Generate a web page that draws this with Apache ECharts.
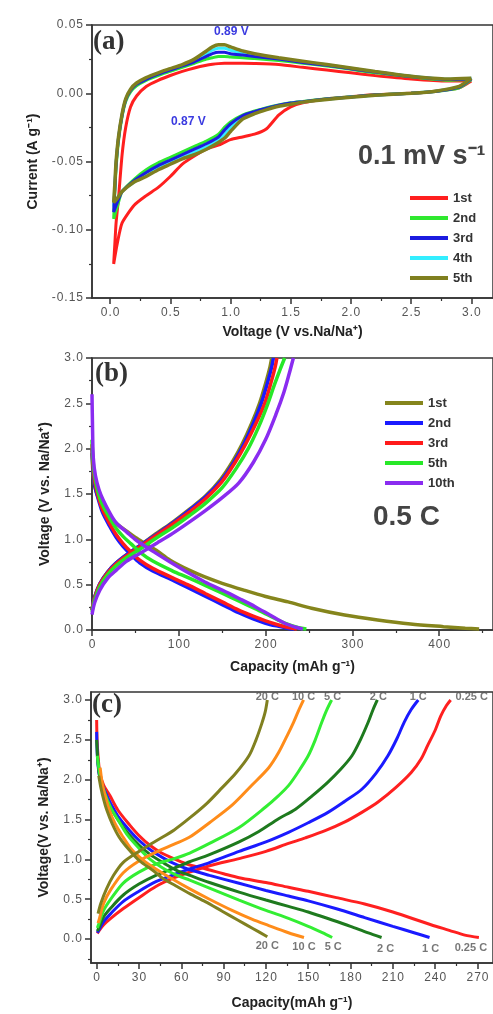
<!DOCTYPE html>
<html>
<head>
<meta charset="utf-8">
<script src="https://cdn.jsdelivr.net/npm/echarts@6/dist/echarts.min.js"></script>
<style>
  html, body { margin: 0; padding: 0; background: #fff; }
  #chart { width: 493px; height: 1014px; }
</style>
</head>
<body>
<div id="chart"></div>
<script>
// ---------- (a) cyclic voltammetry, 0.1 mV/s ----------
var cvCycles = ['1st', '2nd', '3rd', '4th', '5th'];
// cathodic scan 3.0 -> 0.03 V, anodic scan 0.03 -> 3.0 V
var cvVoltDown = [3.0, 2.9, 2.7, 2.5, 2.2, 2.0, 1.8, 1.6, 1.5, 1.4, 1.3, 1.2, 1.1, 1.0, 0.95, 0.9, 0.8, 0.7, 0.6, 0.5, 0.4, 0.3, 0.2, 0.1, 0.06, 0.03];
var cvVoltUp = [0.03, 0.04, 0.05, 0.07, 0.1, 0.13, 0.17, 0.22, 0.3, 0.4, 0.5, 0.6, 0.7, 0.8, 0.85, 0.9, 0.95, 1.0, 1.1, 1.2, 1.4, 1.6, 1.8, 2.0, 2.2, 2.5, 2.8, 3.0];

var cv1stDown = [0.009, 0.004, 0.0015, 0.0, -0.001, -0.0025, -0.004, -0.007, -0.010, -0.016, -0.026, -0.030, -0.032, -0.034, -0.036, -0.038, -0.041, -0.046, -0.052, -0.061, -0.069, -0.075, -0.082, -0.095, -0.110, -0.125];
var cv1stUp = [-0.125, -0.110, -0.095, -0.077, -0.045, -0.025, -0.010, -0.002, 0.005, 0.0095, 0.013, 0.016, 0.0185, 0.0205, 0.0212, 0.0217, 0.022, 0.022, 0.022, 0.0218, 0.021, 0.019, 0.017, 0.015, 0.013, 0.0105, 0.009, 0.009];
var cv2ndDown = [0.010, 0.004, 0.0012, 0.0, -0.0012, -0.0025, -0.004, -0.006, -0.007, -0.0085, -0.0105, -0.013, -0.016, -0.021, -0.025, -0.030, -0.035, -0.039, -0.043, -0.047, -0.051, -0.056, -0.063, -0.072, -0.083, -0.092];
var cv2ndUp = [-0.092, -0.072, -0.055, -0.035, -0.017, -0.006, 0.001, 0.0055, 0.0095, 0.013, 0.016, 0.019, 0.022, 0.025, 0.026, 0.027, 0.027, 0.0265, 0.026, 0.0255, 0.024, 0.022, 0.020, 0.0175, 0.015, 0.012, 0.0095, 0.010];
var cv3rdDown = [0.0105, 0.0045, 0.0013, 0.0, -0.0013, -0.0027, -0.0042, -0.0062, -0.0072, -0.0088, -0.011, -0.0135, -0.0165, -0.0225, -0.027, -0.032, -0.037, -0.041, -0.045, -0.049, -0.053, -0.058, -0.064, -0.072, -0.080, -0.087];
var cv3rdUp = [-0.087, -0.069, -0.052, -0.033, -0.016, -0.005, 0.002, 0.0065, 0.0102, 0.014, 0.017, 0.020, 0.023, 0.027, 0.029, 0.030, 0.030, 0.029, 0.028, 0.027, 0.025, 0.0225, 0.0205, 0.018, 0.0155, 0.0122, 0.010, 0.0105];
var cv4thDown = [0.011, 0.0048, 0.0014, 0.0, -0.0014, -0.0028, -0.0044, -0.0064, -0.0075, -0.009, -0.0115, -0.014, -0.0175, -0.025, -0.030, -0.034, -0.039, -0.043, -0.047, -0.0505, -0.0545, -0.0595, -0.065, -0.072, -0.078, -0.083];
var cv4thUp = [-0.083, -0.067, -0.051, -0.0325, -0.0155, -0.0045, 0.0025, 0.007, 0.011, 0.0145, 0.0175, 0.0205, 0.024, 0.029, 0.0315, 0.033, 0.033, 0.0315, 0.0295, 0.028, 0.0255, 0.023, 0.0208, 0.0183, 0.0158, 0.0124, 0.0102, 0.011];
var cv5thDown = [0.011, 0.005, 0.0015, 0.0, -0.0015, -0.003, -0.0045, -0.0065, -0.008, -0.0095, -0.012, -0.015, -0.019, -0.028, -0.033, -0.036, -0.041, -0.045, -0.048, -0.052, -0.056, -0.061, -0.065, -0.072, -0.077, -0.080];
var cv5thUp = [-0.080, -0.066, -0.050, -0.032, -0.015, -0.004, 0.003, 0.0075, 0.0115, 0.015, 0.018, 0.021, 0.025, 0.031, 0.034, 0.0355, 0.0355, 0.034, 0.031, 0.029, 0.026, 0.0235, 0.021, 0.0185, 0.016, 0.0125, 0.0105, 0.011];

var aVoltTicks = [0, 0.5, 1.0, 1.5, 2.0, 2.5, 3.0];
var aCurrentTicks = [-0.15, -0.10, -0.05, 0.00, 0.05];

// ---------- (b) charge/discharge at 0.5 C, [capacity, voltage] ----------
var gcdCycles = ['1st', '2nd', '3rd', '5th', '10th'];
var gcd1stDis = [[0, 1.95], [1, 1.75], [2.5, 1.62], [5, 1.52], [10, 1.4], [20, 1.26], [30, 1.16], [40, 1.09], [50, 1.02], [60, 0.96], [74, 0.88], [90, 0.77], [112, 0.66], [130, 0.585], [150, 0.515], [175, 0.44], [200, 0.37], [226, 0.31], [253, 0.24], [291, 0.165], [329, 0.11], [367, 0.066], [405, 0.037], [430, 0.02], [446, 0.01]];
var gcd1stChg = [[0, 0.22], [3, 0.36], [9, 0.51], [18, 0.64], [28, 0.74], [40, 0.83], [55, 0.93], [75, 1.07], [93, 1.19], [112, 1.33], [131, 1.48], [148, 1.66], [162, 1.86], [173, 2.05], [184, 2.28], [193, 2.5], [200, 2.72], [205, 2.9], [207, 3.0]];
var gcd2ndDis = [[0, 2.0], [1, 1.8], [3, 1.6], [7, 1.45], [12, 1.3], [20, 1.15], [28, 1.02], [36, 0.92], [45, 0.83], [55, 0.74], [70, 0.65], [93, 0.55], [110, 0.47], [131, 0.37], [150, 0.28], [169, 0.19], [185, 0.125], [200, 0.075], [215, 0.04], [225, 0.02], [233, 0.01]];
var gcd2ndChg = [[0, 0.22], [3, 0.36], [9, 0.51], [18, 0.64], [28, 0.74], [40, 0.83], [55, 0.93], [75, 1.06], [93, 1.18], [112, 1.32], [131, 1.47], [149, 1.65], [164, 1.86], [175, 2.05], [186, 2.28], [195, 2.5], [202, 2.72], [207, 2.9], [209, 3.0]];
var gcd3rdDis = [[0, 2.05], [1, 1.85], [3, 1.65], [7, 1.48], [12, 1.33], [20, 1.18], [28, 1.05], [36, 0.95], [45, 0.86], [55, 0.77], [70, 0.68], [93, 0.575], [110, 0.5], [131, 0.4], [150, 0.31], [169, 0.22], [185, 0.155], [200, 0.1], [215, 0.055], [228, 0.025], [236, 0.01]];
var gcd3rdChg = [[0, 0.22], [3, 0.35], [9, 0.5], [18, 0.63], [28, 0.73], [40, 0.82], [55, 0.92], [75, 1.05], [93, 1.17], [112, 1.3], [131, 1.45], [150, 1.64], [165, 1.85], [177, 2.05], [189, 2.28], [199, 2.5], [206, 2.72], [211, 2.9], [213, 3.0]];
var gcd5thDis = [[0, 2.1], [1, 1.9], [3, 1.7], [7, 1.52], [12, 1.38], [20, 1.24], [28, 1.12], [36, 1.03], [45, 0.95], [55, 0.86], [70, 0.76], [93, 0.65], [110, 0.58], [131, 0.49], [150, 0.405], [169, 0.32], [188, 0.235], [205, 0.155], [222, 0.075], [238, 0.025], [247, 0.01]];
var gcd5thChg = [[0, 0.2], [3, 0.33], [9, 0.48], [18, 0.61], [28, 0.71], [40, 0.8], [55, 0.89], [75, 1.02], [93, 1.13], [112, 1.26], [131, 1.4], [150, 1.57], [166, 1.78], [180, 2.0], [192, 2.24], [202, 2.48], [210, 2.7], [217, 2.88], [222, 3.0]];
var gcd10thDis = [[0, 2.6], [0.5, 2.3], [1.5, 1.9], [4, 1.7], [8, 1.55], [13, 1.43], [20, 1.3], [28, 1.18], [40, 1.08], [51, 0.99], [74, 0.845], [90, 0.75], [112, 0.625], [130, 0.53], [150, 0.44], [170, 0.345], [188, 0.257], [205, 0.165], [222, 0.074], [235, 0.03], [243, 0.01]];
var gcd10thChg = [[0, 0.17], [3, 0.3], [9, 0.44], [18, 0.57], [28, 0.66], [40, 0.76], [55, 0.845], [75, 0.96], [93, 1.066], [112, 1.19], [131, 1.32], [150, 1.46], [169, 1.62], [186, 1.85], [200, 2.1], [212, 2.38], [221, 2.62], [227, 2.82], [232, 3.0]];

var bCapTicks = [0, 100, 200, 300, 400];
var bVoltTicks = [0, 0.5, 1.0, 1.5, 2.0, 2.5, 3.0];

// ---------- (c) rate performance, [capacity, voltage] ----------
var rateNames = ['0.25 C', '1 C', '2 C', '5 C', '10 C', '20 C'];
var rate025Dis = [[0, 2.75], [0.3, 2.5], [1, 2.3], [2.3, 2.08], [5, 1.93], [9.4, 1.8], [15, 1.62], [23.5, 1.43], [30, 1.3], [37.5, 1.18], [46, 1.08], [56, 1.0], [66, 0.93], [77.5, 0.88], [90, 0.82], [101, 0.77], [120, 0.71], [136, 0.65], [150, 0.6], [170, 0.52], [190, 0.44], [210, 0.34], [237, 0.18], [250, 0.11], [261, 0.05], [271, 0.02]];
var rate025Chg = [[0.5, 0.07], [1.5, 0.1], [5, 0.18], [10, 0.26], [18.7, 0.38], [30, 0.52], [42, 0.66], [55, 0.77], [66, 0.84], [80, 0.92], [101, 1.01], [120, 1.1], [136, 1.2], [148, 1.27], [162, 1.36], [176, 1.47], [188, 1.59], [199.5, 1.72], [212, 1.9], [223, 2.09], [230, 2.26], [234.7, 2.43], [240, 2.62], [244, 2.8], [248, 2.93], [251, 3.0]];
var rate1Dis = [[0, 2.6], [0.5, 2.3], [1.5, 2.1], [3, 1.98], [6, 1.85], [10, 1.7], [16, 1.52], [23, 1.37], [30, 1.24], [38, 1.12], [48, 1.01], [57, 0.93], [66, 0.87], [80, 0.8], [101, 0.7], [120, 0.61], [136, 0.54], [150, 0.48], [170, 0.38], [190, 0.27], [210, 0.16], [225, 0.08], [236, 0.02]];
var rate1Chg = [[0.5, 0.08], [1.5, 0.11], [5, 0.22], [10, 0.32], [18.7, 0.47], [30, 0.6], [42, 0.72], [55, 0.81], [66, 0.88], [80, 0.96], [101, 1.1], [120, 1.22], [136, 1.34], [150, 1.46], [164, 1.59], [176, 1.73], [188, 1.88], [198, 2.08], [206.5, 2.3], [213, 2.52], [218, 2.72], [223, 2.88], [228, 3.0]];
var rate2Dis = [[0, 2.5], [1, 2.2], [2.5, 2.0], [5, 1.85], [9, 1.68], [15, 1.5], [22, 1.33], [30, 1.18], [38, 1.06], [48, 0.95], [57, 0.86], [66, 0.8], [80, 0.71], [101, 0.59], [120, 0.49], [136, 0.41], [150, 0.34], [167, 0.24], [180, 0.16], [192, 0.08], [202, 0.02]];
var rate2Chg = [[0.5, 0.1], [1.5, 0.14], [5, 0.28], [10, 0.39], [18.7, 0.55], [30, 0.69], [42, 0.8], [55, 0.89], [66, 0.97], [80, 1.06], [101, 1.22], [115, 1.35], [129, 1.51], [141, 1.63], [153, 1.8], [164, 1.97], [173, 2.13], [181, 2.3], [187, 2.5], [192.5, 2.72], [196, 2.88], [199, 3.0]];
var rate5Dis = [[0.5, 2.3], [1.5, 2.15], [3, 2.0], [6, 1.82], [10, 1.65], [16, 1.47], [22, 1.3], [30, 1.14], [38, 1.0], [48, 0.88], [57, 0.8], [66, 0.74], [80, 0.64], [101, 0.49], [120, 0.36], [136, 0.26], [150, 0.16], [160, 0.08], [167, 0.02]];
var rate5Chg = [[0.5, 0.14], [1.5, 0.19], [5, 0.36], [10, 0.5], [18.7, 0.7], [30, 0.84], [42, 0.94], [55, 1.01], [66, 1.08], [80, 1.2], [101, 1.4], [120, 1.66], [129, 1.8], [136, 1.925], [143, 2.1], [150, 2.3], [155, 2.5], [159.6, 2.72], [163, 2.87], [166.6, 3.0]];
var rate10Dis = [[2.5, 2.15], [4, 1.95], [6, 1.8], [9, 1.62], [13, 1.45], [18, 1.3], [25, 1.12], [33, 0.99], [42, 0.88], [54, 0.75], [66, 0.63], [80, 0.5], [96, 0.36], [110, 0.25], [122, 0.17], [136, 0.08], [147, 0.02]];
var rate10Chg = [[1, 0.2], [2, 0.26], [5, 0.45], [10, 0.62], [18.7, 0.83], [30, 0.98], [42, 1.09], [55, 1.19], [66, 1.28], [80, 1.46], [96, 1.68], [110, 1.93], [122, 2.15], [129, 2.34], [135, 2.55], [139.6, 2.72], [143, 2.86], [146.7, 3.0]];
var rate20Dis = [[1.5, 2.05], [3, 1.9], [5, 1.75], [7, 1.63], [11, 1.45], [16, 1.28], [23, 1.12], [30.5, 0.98], [40, 0.86], [47, 0.76], [56, 0.67], [66, 0.57], [77, 0.47], [89, 0.35], [100, 0.24], [111, 0.13], [121, 0.03]];
var rate20Chg = [[1, 0.32], [3, 0.45], [7, 0.63], [12, 0.8], [18.7, 0.96], [30, 1.1], [42, 1.23], [55, 1.37], [66, 1.52], [78, 1.7], [89, 1.9], [98.6, 2.08], [108, 2.3], [113, 2.5], [117, 2.7], [119.5, 2.85], [121, 3.0]];

var cCapTicks = [0, 30, 60, 90, 120, 150, 180, 210, 240, 270];
var cVoltTicks = [0, 0.5, 1.0, 1.5, 2.0, 2.5, 3.0];

// ---------- helpers ----------
var chart = echarts.init(document.getElementById('chart'));
var FONT = 'Liberation Sans, Arial, sans-serif';

function zip(xs, ys) {
  return xs.map(function (x, i) { return [x, ys[i]]; });
}
function midpoints(ticks, lo, hi) {
  var out = [];
  for (var i = 0; i < ticks.length - 1; i++) out.push((ticks[i] + ticks[i + 1]) / 2);
  var step = ticks[1] - ticks[0];
  if (ticks[0] - step / 2 >= lo) out.unshift(ticks[0] - step / 2);
  if (ticks[ticks.length - 1] + step / 2 <= hi) out.push(ticks[ticks.length - 1] + step / 2);
  return out;
}
function spaced(s) { return s.split('').join('\u200A'); }

// major axis (line, ticks, labels, name) + overlaid minor-tick axis
function axisPair(grid, pos, min, max, ticks, fmt, name, gap) {
  var major = {
    type: 'value', gridIndex: grid, position: pos, min: min, max: max,
    axisLine: { show: true, onZero: false, lineStyle: { color: '#333', width: 1.5 } },
    axisTick: { show: true, customValues: ticks, length: 6, lineStyle: { color: '#333', width: 1.5 } },
    axisLabel: { customValues: ticks, formatter: function (v) { return spaced(fmt(v)); },
      color: '#555', fontSize: 12, fontFamily: FONT, margin: 9 },
    splitLine: { show: false },
    name: name, nameLocation: 'middle', nameGap: gap,
    nameTextStyle: { color: '#222', fontSize: 14, fontWeight: 'bold', fontFamily: FONT }
  };
  var minor = {
    type: 'value', gridIndex: grid, position: pos, offset: 0, min: min, max: max,
    axisLine: { show: false, onZero: false },
    axisTick: { show: true, customValues: midpoints(ticks, min, max), length: 3, lineStyle: { color: '#333', width: 1.2 } },
    axisLabel: { show: false },
    splitLine: { show: false }
  };
  return [major, minor];
}

var f1 = function (v) { return v.toFixed(1); };
var f2 = function (v) { return v.toFixed(2); };
var f0 = function (v) { return String(Math.round(v)); };

var xAxes = [].concat(
  axisPair(0, 'bottom', -0.15, 3.18, aVoltTicks, f1, 'Voltage (V vs.Na/Na\u207A)', 27),
  axisPair(1, 'bottom', 0, 462, bCapTicks, f0, 'Capacity (mAh g\u207B\u00B9)', 30),
  axisPair(2, 'bottom', -4, 281, cCapTicks, f0, 'Capacity(mAh g\u207B\u00B9)', 33)
);
var yAxes = [].concat(
  axisPair(0, 'left', -0.15, 0.05, aCurrentTicks, f2, 'Current (A g\u207B\u00B9)', 52),
  axisPair(1, 'left', 0, 3.0, bVoltTicks, f1, 'Voltage (V vs. Na/Na\u207A)', 40),
  axisPair(2, 'left', -0.3, 3.1, cVoltTicks, f1, 'Voltage(V vs. Na/Na\u207A)', 40)
);

// ---------- series ----------
var series = [];
var cvColors = { '1st': '#ff1f1f', '2nd': '#2fe82f', '3rd': '#1c1ce0', '4th': '#33eeff', '5th': '#7f7f1f' };
var cvData = {
  '1st': [cv1stDown, cv1stUp], '2nd': [cv2ndDown, cv2ndUp], '3rd': [cv3rdDown, cv3rdUp],
  '4th': [cv4thDown, cv4thUp], '5th': [cv5thDown, cv5thUp]
};
['1st', '2nd', '4th', '3rd', '5th'].forEach(function (c) {
  series.push({
    name: 'a ' + c, type: 'line', xAxisIndex: 0, yAxisIndex: 0,
    showSymbol: false, smooth: 0.2, color: cvColors[c],
    lineStyle: { width: c === '5th' ? 3.5 : 3, color: cvColors[c] },
    data: zip(cvVoltDown, cvData[c][0]).concat(zip(cvVoltUp, cvData[c][1]))
  });
});

var gcdColors = { '1st': '#85851c', '2nd': '#1a1aff', '3rd': '#ff1a1a', '5th': '#27e827', '10th': '#8a2cf0' };
var gcdData = {
  '1st': [gcd1stDis, gcd1stChg], '2nd': [gcd2ndDis, gcd2ndChg], '3rd': [gcd3rdDis, gcd3rdChg],
  '5th': [gcd5thDis, gcd5thChg], '10th': [gcd10thDis, gcd10thChg]
};
gcdCycles.forEach(function (c) {
  gcdData[c].forEach(function (curve, k) {
    series.push({
      name: 'b ' + c, type: 'line', xAxisIndex: 2, yAxisIndex: 2,
      showSymbol: false, smooth: 0.3, color: gcdColors[c],
      lineStyle: { width: 3.5, color: gcdColors[c] },
      data: curve
    });
  });
});

var rateColors = { '0.25 C': '#ff2020', '1 C': '#1a1aff', '2 C': '#1e7a1e', '5 C': '#33ee33', '10 C': '#ff8c1a', '20 C': '#808020' };
var rateData = {
  '0.25 C': [rate025Dis, rate025Chg], '1 C': [rate1Dis, rate1Chg], '2 C': [rate2Dis, rate2Chg],
  '5 C': [rate5Dis, rate5Chg], '10 C': [rate10Dis, rate10Chg], '20 C': [rate20Dis, rate20Chg]
};
// label nudges (pixels) for the end-of-curve captions
var topNudge = { '0.25 C': [21, -3], '1 C': [0, -3], '2 C': [1, -3], '5 C': [1, -3], '10 C': [0, -3], '20 C': [0, -3] };
var botNudge = { '0.25 C': [-8, 10], '1 C': [1, 11], '2 C': [4, 11], '5 C': [1, 9], '10 C': [0, 9], '20 C': [0, 9] };
rateNames.forEach(function (r) {
  rateData[r].forEach(function (curve) {
    series.push({
      name: 'c ' + r, type: 'line', xAxisIndex: 4, yAxisIndex: 4,
      showSymbol: false, smooth: 0.3, color: rateColors[r],
      lineStyle: { width: 3, color: rateColors[r] },
      data: curve
    });
  });
});
// captions at curve ends
var capLabel = { color: '#555', fontSize: 11, fontWeight: 'bold', fontFamily: FONT };
series.push({
  type: 'scatter', xAxisIndex: 4, yAxisIndex: 4, symbolSize: 0, silent: true,
  data: rateNames.map(function (r) {
    var chg = rateData[r][1], dis = rateData[r][0];
    return [
      { value: chg[chg.length - 1], label: Object.assign({ show: true, position: 'inside', formatter: r, offset: topNudge[r] }, capLabel) },
      { value: dis[dis.length - 1], label: Object.assign({ show: true, position: 'inside', formatter: r, offset: botNudge[r] }, capLabel) }
    ];
  }).reduce(function (a, b) { return a.concat(b); }, [])
});

var legendText = { color: '#333', fontSize: 13, fontWeight: 'bold', fontFamily: FONT, lineHeight: 14 };
var stripTag = function (n) { return n.slice(2); };

chart.setOption({
  animation: false,
  backgroundColor: '#fff',
  grid: [
    { left: 92, right: -3, top: 25, height: 273, show: true, borderColor: '#333', borderWidth: 1.5, backgroundColor: 'transparent' },
    { left: 92, right: -3, top: 358, height: 272, show: true, borderColor: '#333', borderWidth: 1.5, backgroundColor: 'transparent' },
    { left: 91, right: -3, top: 692, height: 271, show: true, borderColor: '#333', borderWidth: 1.5, backgroundColor: 'transparent' }
  ],
  xAxis: xAxes,
  yAxis: yAxes,
  legend: [
    { orient: 'vertical', left: 405, top: 186, itemWidth: 38, itemHeight: 4, itemGap: 6, icon: 'rect',
      data: cvCycles.map(function (c) { return 'a ' + c; }), formatter: stripTag, textStyle: legendText },
    { orient: 'vertical', left: 380, top: 391, itemWidth: 38, itemHeight: 4, itemGap: 6, icon: 'rect',
      data: gcdCycles.map(function (c) { return 'b ' + c; }), formatter: stripTag, textStyle: legendText }
  ],
  graphic: [
    { type: 'text', left: 93, top: 29, style: { text: '(a)', font: 'bold 27px "Liberation Serif", serif', fill: '#333' } },
    { type: 'text', left: 95, top: 361, style: { text: '(b)', font: 'bold 27px "Liberation Serif", serif', fill: '#333' } },
    { type: 'text', left: 92, top: 692, style: { text: '(c)', font: 'bold 27px "Liberation Serif", serif', fill: '#333' } },
    { type: 'text', left: 214, top: 26, style: { text: '0.89 V', font: 'bold 12px "Liberation Sans", sans-serif', fill: '#3a3ae0' } },
    { type: 'text', left: 171, top: 116, style: { text: '0.87 V', font: 'bold 12px "Liberation Sans", sans-serif', fill: '#3a3ae0' } },
    { type: 'text', left: 358, top: 143, style: { text: '0.1 mV s\u207B\u00B9', font: 'bold 27px "Liberation Sans", sans-serif', fill: '#444' } },
    { type: 'text', left: 373, top: 503, style: { text: '0.5 C', font: 'bold 28px "Liberation Sans", sans-serif', fill: '#444' } }
  ],
  series: series
});
</script>
</body>
</html>
